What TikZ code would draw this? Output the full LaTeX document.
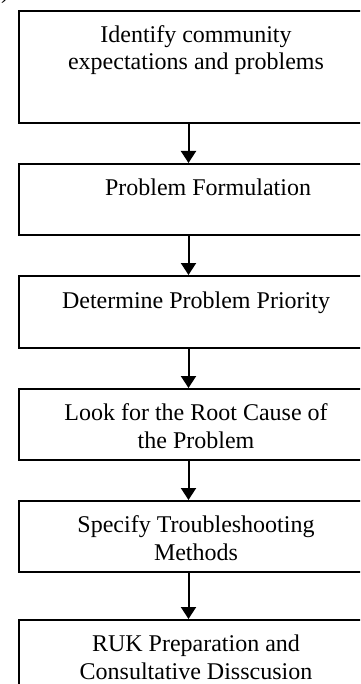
\documentclass[tikz,border=0pt]{standalone}
\usepackage{fontspec}
\setmainfont{Liberation Serif}
\usetikzlibrary{arrows.meta}
\begin{document}
\begin{tikzpicture}[x=1pt,y=-1pt,
  stepbox/.style={draw=black,line width=2pt,rectangle,minimum width=354pt,inner sep=0pt,anchor=north west},
  lbl/.style={align=center,inner sep=0pt,anchor=base,font=\fontsize{24}{27.5}\selectfont},
  arr/.style={line width=2pt,-{Triangle[length=12pt,width=15pt]}}]
\clip (0,0) rectangle (360,684);
\node[stepbox,minimum height=112pt] (b1) at (18,10) {};
\node[stepbox,minimum height=71pt] (b2) at (18,163) {};
\node[stepbox,minimum height=72pt] (b3) at (18,275) {};
\node[stepbox,minimum height=71pt] (b4) at (18,388) {};
\node[stepbox,minimum height=71pt] (b5) at (18,500) {};
\node[stepbox,minimum height=90pt] (b6) at (18,619) {};
\node[lbl] (t1) at (196,70) {Identify community\\expectations and problems};
\node[lbl] (t2) at (208,196) {Problem Formulation};
\node[lbl] (t3) at (196,308) {Determine Problem Priority};
\node[lbl] (t4) at (196,448) {Look for the Root Cause of\\the Problem};
\node[lbl] (t5) at (196,560) {Specify Troubleshooting\\Methods};
\node[lbl] (t6) at (196,679) {RUK Preparation and\\Consultative Disscusion};
\node[lbl,anchor=base west] (p0) at (1,-1) {)};
\draw[arr] ([xshift=170.5pt]b1.south west) -- ([xshift=170.5pt]b2.north west);
\draw[arr] ([xshift=170.5pt]b2.south west) -- ([xshift=170.5pt]b3.north west);
\draw[arr] ([xshift=170.5pt]b3.south west) -- ([xshift=170.5pt]b4.north west);
\draw[arr] ([xshift=170.5pt]b4.south west) -- ([xshift=170.5pt]b5.north west);
\draw[arr] ([xshift=170.5pt]b5.south west) -- ([xshift=170.5pt]b6.north west);
\end{tikzpicture}
\end{document}
